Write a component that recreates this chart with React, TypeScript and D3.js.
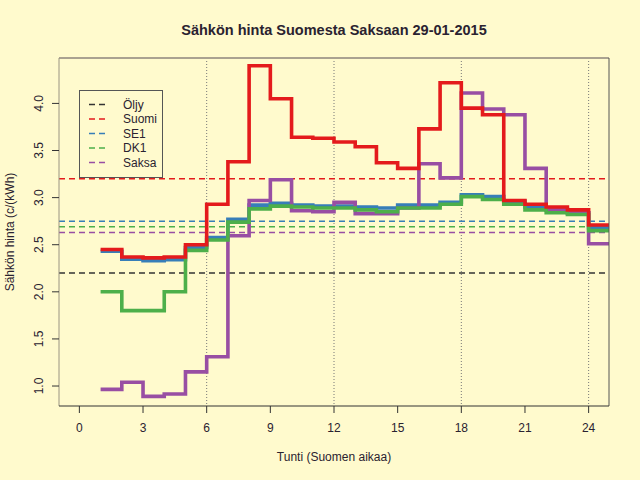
import React from "react";
import * as d3 from "d3";

const hours = [1, 2, 3, 4, 5, 6, 7, 8, 9, 10, 11, 12, 13, 14, 15, 16, 17, 18, 19, 20, 21, 22, 23, 24];
const suomi = [2.45, 2.37, 2.36, 2.37, 2.5, 2.93, 3.38, 4.4, 4.05, 3.64, 3.63, 3.59, 3.54, 3.37, 3.31, 3.73, 4.22, 3.95, 3.88, 2.97, 2.93, 2.9, 2.87, 2.71];
const se1 = [2.43, 2.345, 2.33, 2.34, 2.47, 2.575, 2.77, 2.92, 2.94, 2.92, 2.91, 2.91, 2.9, 2.89, 2.92, 2.92, 2.95, 3.03, 3.01, 2.96, 2.9, 2.875, 2.84, 2.68];
const dk1 = [2.0, 1.8, 1.8, 2.0, 2.44, 2.55, 2.74, 2.88, 2.91, 2.9, 2.89, 2.89, 2.87, 2.85, 2.89, 2.89, 2.93, 3.01, 2.98, 2.93, 2.87, 2.84, 2.82, 2.65];
const saksa = [0.965, 1.04, 0.89, 0.915, 1.15, 1.31, 2.595, 2.97, 3.19, 2.86, 2.85, 2.95, 2.83, 2.83, 2.89, 3.36, 3.21, 4.11, 3.94, 3.88, 3.31, 2.87, 2.84, 2.51];

const legendLabels = ["Öljy", "Suomi", "SE1", "DK1", "Saksa"];
const averages = [2.2, 3.2, 2.75, 2.69, 2.63];
const colors = ["#333333", "#E41A1C", "#377EB8", "#4DAF4A", "#984EA3"];

const xTicks = [0, 3, 6, 9, 12, 15, 18, 21, 24];
const yTicks = [1.0, 1.5, 2.0, 2.5, 3.0, 3.5, 4.0];
const gridX = [6, 12, 18, 24];

const L = 59, R = 609, T = 58, B = 406;
const x = d3.scaleLinear().domain([-0.96, 24.96]).range([L, R]);
const y = d3.scaleLinear().domain([0.788, 4.482]).range([B, T]);

const font = "'Liberation Sans', Arial, Helvetica, sans-serif";
const textCol = "#2a2230";

function stepPath(vals: number[]) {
  const pts: [number, number][] = hours.map((h, i) => [h, vals[i]]);
  pts.push([hours[hours.length - 1] + 1, vals[vals.length - 1]]);
  return d3
    .line<[number, number]>()
    .x((d) => x(d[0]))
    .y((d) => y(d[1]))
    .curve(d3.curveStepAfter)(pts) as string;
}

// draw order
const series = [
  { vals: se1, color: colors[2] },
  { vals: saksa, color: colors[4] },
  { vals: dk1, color: colors[3] },
  { vals: suomi, color: colors[1] },
];

export default function App() {
  return (
    <svg
      width={640}
      height={480}
      style={{ position: "absolute", left: 0, top: 0 }}
      fontFamily={font}
    >
      <defs>
        <clipPath id="plot">
          <rect x={L} y={T} width={R - L} height={B - T} />
        </clipPath>
      </defs>
      <rect x={0} y={0} width={640} height={480} fill="#FFFACD" />

      {/* title */}
      <text x={334} y={35} textAnchor="middle" fontSize={14.5} fontWeight="bold" fill={textCol}>
        Sähkön hinta Suomesta Saksaan 29-01-2015
      </text>

      {/* grid */}
      {gridX.map((g) => (
        <line key={g} x1={x(g)} x2={x(g)} y1={T} y2={B} stroke="#777" strokeWidth={1} strokeDasharray="1,2" />
      ))}

      {/* average dashed lines */}
      <g clipPath="url(#plot)">
        {averages.map((a, i) => (
          <line key={i} x1={L} x2={R} y1={y(a)} y2={y(a)} stroke={colors[i]} strokeWidth={1.5} strokeDasharray="6,4" />
        ))}
        {series.map((s, i) => (
          <path key={i} d={stepPath(s.vals)} fill="none" stroke={s.color} strokeWidth={3.6} />
        ))}
      </g>

      {/* frame */}
      <line x1={L} x2={R} y1={T} y2={T} stroke="#aaa290" strokeWidth={2} />
      <line x1={L} x2={L} y1={T} y2={B} stroke="#9a9482" strokeWidth={1} />
      <line x1={R} x2={R} y1={T} y2={B} stroke="#555" strokeWidth={1} />
      <line x1={L} x2={R} y1={B} y2={B} stroke="#333" strokeWidth={1} />

      {/* x axis */}
      {xTicks.map((t) => (
        <g key={t}>
          <line x1={x(t)} x2={x(t)} y1={B} y2={B + 7} stroke="#333" />
          <text x={x(t)} y={B + 26} textAnchor="middle" fontSize={12} fill={textCol}>
            {t}
          </text>
        </g>
      ))}
      <text x={334} y={461} textAnchor="middle" fontSize={12} fill={textCol}>
        Tunti (Suomen aikaa)
      </text>

      {/* y axis */}
      {yTicks.map((t) => (
        <g key={t}>
          <line x1={L - 7} x2={L} y1={y(t)} y2={y(t)} stroke="#333" />
          <text
            x={0}
            y={0}
            transform={`translate(${L - 16},${y(t)}) rotate(-90)`}
            textAnchor="middle"
            fontSize={12}
            fill={textCol}
          >
            {t.toFixed(1)}
          </text>
        </g>
      ))}
      <text
        transform={`translate(14,${(T + B) / 2}) rotate(-90)`}
        textAnchor="middle"
        fontSize={12}
        fill={textCol}
      >
        Sähkön hinta (c/(kWh)
      </text>

      {/* legend */}
      <rect x={79.5} y={90.5} width={83} height={87} fill="#FFFACD" stroke="#555" strokeWidth={1} />
      {legendLabels.map((lab, i) => {
        const ly = 104.5 + i * 14.5;
        return (
          <g key={lab}>
            <line x1={89} x2={109} y1={ly} y2={ly} stroke={colors[i]} strokeWidth={1.5} strokeDasharray="6,4" />
            <text x={123} y={ly + 4.3} fontSize={12} fill={textCol}>
              {lab}
            </text>
          </g>
        );
      })}
    </svg>
  );
}
